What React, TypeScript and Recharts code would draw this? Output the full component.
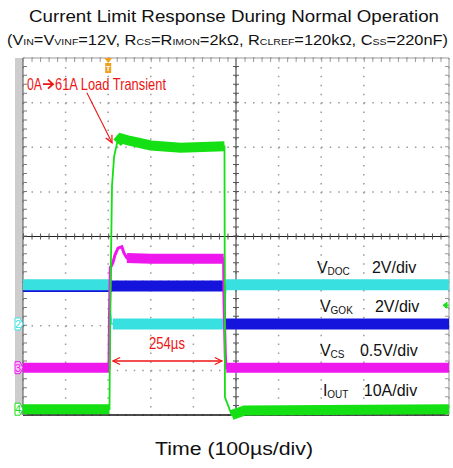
import { ComposedChart, Line, XAxis, YAxis, CartesianGrid, ReferenceLine, ReferenceDot } from "recharts";

const W = 453;
const H = 468;
const MARGIN = { top: 58, right: 4, bottom: 53, left: 23 };

const timeTicks = [0, 100, 200, 300, 400, 500, 600, 700, 800, 900, 1000];
const divTicks = [0, 1, 2, 3, 4, 5, 6, 7, 8];

// [time in µs, level in divisions from the bottom, 1 = noisy flat part]
const ioutTrace: [number, number, number][] = [
  [0, 0.13, 1], [203, 0.13, 1], [205, 2.5, 0], [209, 5.15, 0], [214, 5.8, 0],
  [221, 6.1, 1], [230, 6.2, 1], [252, 6.14, 1], [300, 6.04, 1], [370, 5.99, 1],
  [473, 6.02, 1], [474, 0.4, 0], [490, 0.0, 1], [520, 0.1, 1], [1000, 0.13, 1],
];
const vcsTrace: [number, number, number][] = [
  [0, 1.06, 1], [202, 1.06, 1], [203, 2.2, 0], [205, 3.3, 0], [211, 3.41, 0],
  [216, 3.59, 0], [223, 3.74, 0], [232, 3.77, 0], [237, 3.63, 0], [244, 3.52, 1],
  [300, 3.5, 1], [471, 3.5, 1], [472, 2.5, 0], [475, 1.3, 0], [477, 1.06, 1], [1000, 1.06, 1],
];
const vdocTrace: [number, number, number][] = [
  [0, 2.92, 1], [203, 2.92, 1], [205, 2.3, 0], [208, 2.04, 0], [211, 2.04, 1],
  [473, 2.04, 1], [474, 2.5, 0], [476, 2.92, 1], [1000, 2.92, 1],
];
const vgokTrace: [number, number, number][] = [
  [0, 2.88, 1], [202, 2.88, 1], [210, 2.89, 1], [471, 2.89, 1], [472, 2.4, 0],
  [474, 2.04, 1], [1000, 2.04, 1],
];

const RED = "#ee1414";
const GREEN = "#14e014";
const MAGENTA = "#ee18ee";
const CYAN = "#38e0e0";
const BLUE = "#1414dc";

const traces = [
  { id: "vgok", pts: vgokTrace, color: BLUE, band: 11 },
  { id: "vdoc", pts: vdocTrace, color: CYAN, band: 11 },
  { id: "vcs", pts: vcsTrace, color: MAGENTA, band: 10 },
  { id: "iout", pts: ioutTrace, color: GREEN, band: 10 },
];

const toThin = (tr: [number, number, number][]) => tr.map(([t, v]) => ({ t, v }));
const toBand = (tr: [number, number, number][]) => tr.map(([t, v, b]) => ({ t, v: b ? v : null }));

const FONT = "'Liberation Sans', Arial, sans-serif";
const NARROW = "'Liberation Sans Narrow', 'Liberation Sans', Arial, sans-serif";

const arrowHead = (x: number, y: number, ang: number, key: string) => {
  const len = 8;
  const a1 = ang + Math.PI - 0.45;
  const a2 = ang + Math.PI + 0.45;
  return (
    <path
      key={key}
      d={`M${x + len * Math.cos(a1)},${y + len * Math.sin(a1)} L${x},${y} L${x + len * Math.cos(a2)},${y + len * Math.sin(a2)}`}
      stroke={RED}
      strokeWidth={1.2}
      fill="none"
    />
  );
};

const SingleArrow = (p: any) => {
  const ang = Math.atan2(p.y2 - p.y1, p.x2 - p.x1);
  return (
    <g>
      <line x1={p.x1} y1={p.y1} x2={p.x2} y2={p.y2} stroke={RED} strokeWidth={1.1} />
      {arrowHead(p.x2, p.y2, ang, "h")}
    </g>
  );
};

const DoubleArrow = (p: any) => {
  const ang = Math.atan2(p.y2 - p.y1, p.x2 - p.x1);
  return (
    <g>
      <line x1={p.x1} y1={p.y1} x2={p.x2} y2={p.y2} stroke={RED} strokeWidth={1.3} />
      {arrowHead(p.x2, p.y2, ang, "e")}
      {arrowHead(p.x1, p.y1, ang + Math.PI, "s")}
    </g>
  );
};

const ChannelTag = (num: string, color: string, filled: boolean) => (p: any) => (
  <g>
    <path
      d={`M${p.cx - 8},${p.cy - 6} L${p.cx - 3},${p.cy - 6} L${p.cx},${p.cy} L${p.cx - 3},${p.cy + 6} L${p.cx - 8},${p.cy + 6} Z`}
      fill={filled ? "#f4c8f4" : "#ffffff"}
      stroke={color}
      strokeWidth={1}
    />
    <text x={p.cx - 5} y={p.cy + 4} fontSize={11} fontFamily={FONT} fill={color} textAnchor="middle">
      {num}
    </text>
  </g>
);

const TriggerMark = (p: any) => (
  <g>
    <path d={`M${p.cx - 4},${p.cy} L${p.cx + 4},${p.cy} L${p.cx},${p.cy + 5} Z`} fill="#f0a020" />
    <rect x={p.cx - 3} y={p.cy + 5} width={6} height={10} fill="#f0a020" />
    <text x={p.cx} y={p.cy + 13} fontSize={8} fontFamily={FONT} fill="#ffffff" textAnchor="middle" fontWeight="bold">
      T
    </text>
  </g>
);

const RightMark = (p: any) => (
  <path d={`M${p.cx - 6},${p.cy} L${p.cx - 2},${p.cy - 3} L${p.cx - 2},${p.cy + 3} Z M${p.cx - 2},${p.cy} L${p.cx},${p.cy}`} fill={GREEN} stroke={GREEN} strokeWidth={1} />
);

const Label = (main: string, sub: string) => (p: any) => (
  <text x={p.cx} y={p.cy} fontSize={16} fontFamily={FONT} fill="#111">
    {main}
    <tspan fontSize={10} dy={2}>{sub}</tspan>
  </text>
);

const Scale = (s: string) => (p: any) => (
  <text x={p.cx} y={p.cy} fontSize={16} fontFamily={FONT} fill="#111">
    {s}
  </text>
);

// "0A", a drawn arrow glyph, then "61A Load Transient"
const TransientText = (p: any) => (
  <g>
    <text x={p.cx} y={p.cy} fontSize={16.5} fontFamily={NARROW} fill={RED} textLength={15} lengthAdjust="spacingAndGlyphs">
      0A
    </text>
    <path
      d={`M${p.cx + 16},${p.cy - 6} L${p.cx + 25},${p.cy - 6} M${p.cx + 21},${p.cy - 10.5} L${p.cx + 26},${p.cy - 6} L${p.cx + 21},${p.cy - 1.5}`}
      stroke={RED}
      strokeWidth={1.8}
      fill="none"
    />
    <text x={p.cx + 28} y={p.cy} fontSize={16.5} fontFamily={NARROW} fill={RED} textLength={111} lengthAdjust="spacingAndGlyphs">
      61A Load Transient
    </text>
  </g>
);

const DurationText = (p: any) => (
  <text x={p.cx} y={p.cy} fontSize={16.5} fontFamily={NARROW} fill={RED} textAnchor="middle" textLength={36} lengthAdjust="spacingAndGlyphs">
    254µs
  </text>
);

const noDot = { r: 0, fill: "none", stroke: "none" };

export default function App() {
  return (
    <div style={{ position: "absolute", left: 0, top: 0, width: W, height: H, background: "#fff" }}>
      <div style={{ position: "absolute", left: 15, top: MARGIN.top, width: 8, height: H - MARGIN.top - MARGIN.bottom, background: "#cdcdcd" }} />
      <div style={{ position: "absolute", left: 0, top: 0 }}>
        <ComposedChart width={W} height={H} margin={MARGIN}>
          <XAxis type="number" dataKey="t" domain={[0, 1000]} ticks={timeTicks} hide />
          <YAxis type="number" domain={[0, 8]} ticks={divTicks} hide />
          <CartesianGrid vertical={false} stroke="#9a9a9a" strokeWidth={1.5} strokeDasharray="1.5 7.02" />
          <CartesianGrid horizontal={false} stroke="#9a9a9a" strokeWidth={1.5} strokeDasharray="1.5 7.425" />

          {/* center cross with minor ticks */}
          <ReferenceLine x={500} stroke="#333" strokeWidth={1} />
          <ReferenceLine y={4} stroke="#222" strokeWidth={1.2} />
          <ReferenceLine x={500} stroke="#555" strokeWidth={6} strokeDasharray="1 7.925" />
          <ReferenceLine y={4} stroke="#555" strokeWidth={6} strokeDasharray="1 7.52" />

          {/* frame */}
          <ReferenceLine y={8} stroke="#999" strokeWidth={1} />
          <ReferenceLine x={1000} stroke="#999" strokeWidth={1} />
          <ReferenceLine x={0} stroke="#555" strokeWidth={1} />
          <ReferenceLine y={0} stroke="#111" strokeWidth={1.6} />
          <ReferenceLine y={7.955} stroke="#999" strokeWidth={4} strokeDasharray="1 7.52" />
          <ReferenceLine x={995.3} stroke="#999" strokeWidth={4} strokeDasharray="1 7.925" />
          <ReferenceLine x={4.7} stroke="#777" strokeWidth={4} strokeDasharray="1 7.925" />

          {traces.flatMap((tr) => [
            <Line
              key={tr.id + "-band"}
              data={toBand(tr.pts)}
              dataKey="v"
              type="linear"
              stroke={tr.color}
              strokeWidth={tr.band}
              strokeLinecap="butt"
              dot={false}
              activeDot={false}
              connectNulls={false}
              isAnimationActive={false}
            />,
            <Line
              key={tr.id + "-thin"}
              data={toThin(tr.pts)}
              dataKey="v"
              type="linear"
              stroke={tr.color}
              strokeWidth={tr.id === "vcs" ? 3 : 1.8}
              dot={false}
              activeDot={false}
              isAnimationActive={false}
            />,
          ])}

          {/* annotations */}
          <ReferenceLine segment={[{ x: 150, y: 7.22 }, { x: 209, y: 6.1 }]} shape={SingleArrow} />
          <ReferenceLine segment={[{ x: 211, y: 1.21 }, { x: 467, y: 1.21 }]} shape={DoubleArrow} />
          <ReferenceDot x={9.4} y={7.28} {...noDot} shape={TransientText} />
          <ReferenceDot x={338} y={1.48} {...noDot} shape={DurationText} />

          <ReferenceDot x={690} y={3.18} {...noDot} shape={Label("V", "DOC")} />
          <ReferenceDot x={819} y={3.18} {...noDot} shape={Scale("2V/div")} />
          <ReferenceDot x={697} y={2.31} {...noDot} shape={Label("V", "GOK")} />
          <ReferenceDot x={826} y={2.31} {...noDot} shape={Scale("2V/div")} />
          <ReferenceDot x={697} y={1.32} {...noDot} shape={Label("V", "CS")} />
          <ReferenceDot x={791} y={1.32} {...noDot} shape={Scale("0.5V/div")} />
          <ReferenceDot x={704} y={0.43} {...noDot} shape={Label("I", "OUT")} />
          <ReferenceDot x={800} y={0.43} {...noDot} shape={Scale("10A/div")} />

          <ReferenceDot x={0} y={2.04} {...noDot} shape={ChannelTag("2", CYAN, false)} />
          <ReferenceDot x={0} y={1.06} {...noDot} shape={ChannelTag("3", MAGENTA, true)} />
          <ReferenceDot x={0} y={0.13} {...noDot} shape={ChannelTag("4", GREEN, false)} />
          <ReferenceDot x={200} y={8} {...noDot} shape={TriggerMark} />
          <ReferenceDot x={1000} y={2.46} {...noDot} shape={RightMark} />
        </ComposedChart>
      </div>
      <svg width={W} height={H} style={{ position: "absolute", left: 0, top: 0, pointerEvents: "none" }}>
        <text x={234} y={22} fontSize={17} fontFamily={FONT} fill="#111" textAnchor="middle" textLength={410} lengthAdjust="spacingAndGlyphs">
          Current Limit Response During Normal Operation
        </text>
        <text x={7} y={45} fontSize={14} fontFamily={FONT} fill="#111" textLength={441} lengthAdjust="spacingAndGlyphs">
          (V<tspan fontSize={9}>IN</tspan>=V<tspan fontSize={9}>VINF</tspan>=12V, R<tspan fontSize={9}>CS</tspan>=R
          <tspan fontSize={9}>IMON</tspan>=2kΩ, R<tspan fontSize={9}>CLREF</tspan>=120kΩ, C<tspan fontSize={9}>SS</tspan>=220nF)
        </text>
        <text x={234} y={455} fontSize={18} fontFamily={FONT} fill="#111" textAnchor="middle" textLength={158} lengthAdjust="spacingAndGlyphs">
          Time (100µs/div)
        </text>
      </svg>
    </div>
  );
}
